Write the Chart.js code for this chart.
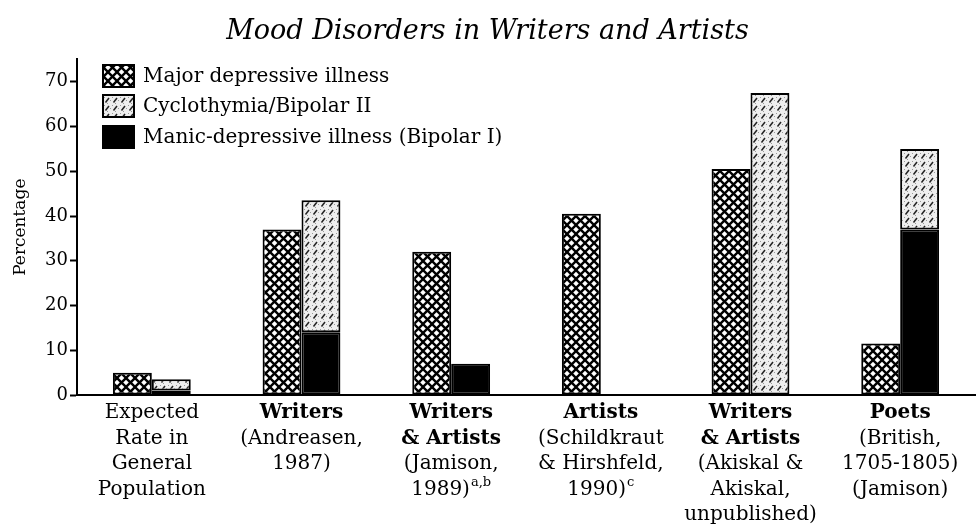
<!DOCTYPE html>
<html>
<head>
<meta charset="utf-8">
<script src="https://cdn.jsdelivr.net/npm/chart.js@4.4.1/dist/chart.umd.min.js"></script>
<style>
  html, body { margin: 0; padding: 0; background: #fff; }
  #wrap { width: 976px; height: 531px; }
</style>
</head>
<body>
<div id="wrap"><canvas id="myChart" width="976" height="531"></canvas></div>
<script>
const categories = [
  ["Expected", "Rate in", "General", "Population"],
  ["Writers", "(Andreasen,", "1987)"],
  ["Writers", "& Artists", "(Jamison,", "1989)"],
  ["Artists", "(Schildkraut", "& Hirshfeld,", "1990)"],
  ["Writers", "& Artists", "(Akiskal &", "Akiskal,", "unpublished)"],
  ["Poets", "(British,", "1705-1805)", "(Jamison)"]
];
const boldLines = [0, 1, 2, 1, 2, 1];
const footnotes = ["", "", "a,b", "c", "", ""];

const majorDepressive = [5, 37, 32, 40.5, 50.5, 11.5];
const manicDepressive = [1, 14, 7, null, null, 37];
const cyclothymia = [2.5, 29.5, null, null, 67.5, 18];

const yTicks = [0, 10, 20, 30, 40, 50, 60, 70];

const SERIF = "'DejaVu Serif', 'Liberation Serif', serif";

const canvas = document.getElementById("myChart");
const ctx = canvas.getContext("2d");

function crossHatch() {
  const s = 9;
  const c = document.createElement("canvas");
  c.width = s; c.height = s;
  const g = c.getContext("2d");
  g.fillStyle = "#fff";
  g.fillRect(0, 0, s, s);
  g.strokeStyle = "#000";
  g.lineWidth = 2.4;
  for (let k = -1; k <= 1; k++) {
    g.beginPath(); g.moveTo(k * s, 0); g.lineTo(k * s + s, s); g.stroke();
    g.beginPath(); g.moveTo(k * s + s, 0); g.lineTo(k * s, s); g.stroke();
  }
  return ctx.createPattern(c, "repeat");
}

function speckled() {
  const s = 8;
  const c = document.createElement("canvas");
  c.width = s; c.height = s;
  const g = c.getContext("2d");
  g.fillStyle = "#eeeeee";
  g.fillRect(0, 0, s, s);
  g.fillStyle = "#999";
  g.fillRect(0, 1, 1, 1);
  g.fillRect(6, 4, 1, 1);
  g.fillRect(3, 7, 1, 1);
  g.strokeStyle = "#222";
  g.lineWidth = 1.5;
  g.beginPath(); g.moveTo(1.5, 6.5); g.lineTo(5, 2); g.stroke();
  return ctx.createPattern(c, "repeat");
}

const crossFill = crossHatch();
const cycloFill = speckled();

// legend drawn inside the plot, top left
const legendItems = [
  { label: "Major depressive illness", fill: crossFill },
  { label: "Cyclothymia/Bipolar II", fill: cycloFill },
  { label: "Manic-depressive illness (Bipolar I)", fill: "#000" }
];

const boxLegend = {
  id: "boxLegend",
  afterDraw(chart) {
    const c = chart.ctx;
    const area = chart.chartArea;
    const x = area.left + 26;
    const ys = [76, 106, 137];
    c.save();
    legendItems.forEach((item, i) => {
      c.fillStyle = item.fill;
      c.fillRect(x, ys[i] - 11, 31, 22);
      c.lineWidth = 2;
      c.strokeStyle = "#000";
      c.strokeRect(x, ys[i] - 11, 31, 22);
      c.fillStyle = "#000";
      c.font = "20px " + SERIF;
      c.textBaseline = "middle";
      c.textAlign = "left";
      c.fillText(item.label, x + 40, ys[i] + 1);
    });
    c.restore();
  }
};

// category labels under the axis, first lines bold
const catLabels = {
  id: "catLabels",
  afterDraw(chart) {
    const c = chart.ctx;
    const xs = chart.scales.x;
    c.save();
    c.fillStyle = "#000";
    c.textBaseline = "middle";
    c.textAlign = "left";
    categories.forEach((lines, i) => {
      const cx = xs.getPixelForValue(i);
      lines.forEach((line, j) => {
        const y = 413 + j * 25.5;
        const main = (j < boldLines[i] ? "bold " : "") + "20px " + SERIF;
        const last = j === lines.length - 1 && footnotes[i];
        c.font = main;
        const w = c.measureText(line).width;
        let ws = 0;
        if (last) {
          c.font = "13px " + SERIF;
          ws = c.measureText(footnotes[i]).width + 1;
        }
        c.font = main;
        c.fillText(line, cx - (w + ws) / 2, y);
        if (last) {
          c.font = "13px " + SERIF;
          c.fillText(footnotes[i], cx - (w + ws) / 2 + w + 1, y - 7);
        }
      });
    });
    c.restore();
  }
};

const data = {
  labels: categories.map((l) => l.join(" ")),
  datasets: [
    {
      label: "Major depressive illness",
      data: majorDepressive,
      stack: "left",
      backgroundColor: crossFill,
    },
    {
      label: "Manic-depressive illness (Bipolar I)",
      data: manicDepressive,
      stack: "right",
      backgroundColor: "#000",
    },
    {
      label: "Cyclothymia/Bipolar II",
      data: cyclothymia,
      stack: "right",
      backgroundColor: cycloFill,
    },
  ],
};

const config = {
  type: "bar",
  data: data,
  options: {
    responsive: false,
    animation: false,
    layout: { padding: { left: 0, right: 1, top: 0, bottom: 0 } },
    datasets: {
      bar: {
        borderColor: "#000",
        borderWidth: 2,
        borderSkipped: false,
        barPercentage: 1,
        categoryPercentage: 0.52,
      },
    },
    plugins: {
      legend: { display: false },
      tooltip: { enabled: false },
      title: {
        display: true,
        text: "Mood Disorders in Writers and Artists",
        color: "#000",
        font: { family: SERIF, style: "italic", size: 27, weight: "normal" },
        padding: { top: 16, bottom: 11 },
      },
    },
    scales: {
      x: {
        stacked: true,
        grid: { display: false, drawTicks: false },
        border: { color: "#000", width: 2 },
        ticks: { display: false },
        afterFit: (s) => { s.height = 136; },
      },
      y: {
        stacked: true,
        min: 0,
        max: 75,
        afterBuildTicks: (s) => { s.ticks = yTicks.map((v) => ({ value: v })); },
        grid: { drawOnChartArea: false, tickLength: 7, tickColor: "#000", tickWidth: 2 },
        border: { color: "#000", width: 2 },
        ticks: { color: "#000", font: { family: SERIF, size: 18 }, padding: 2 },
        title: {
          display: true,
          text: "Percentage",
          color: "#000",
          font: { family: SERIF, size: 17 },
          padding: { top: 10, bottom: 0 },
        },
        afterFit: (s) => { s.width = 77; },
      },
    },
  },
  plugins: [boxLegend, catLabels],
};

new Chart(canvas, config);
</script>
</body>
</html>
